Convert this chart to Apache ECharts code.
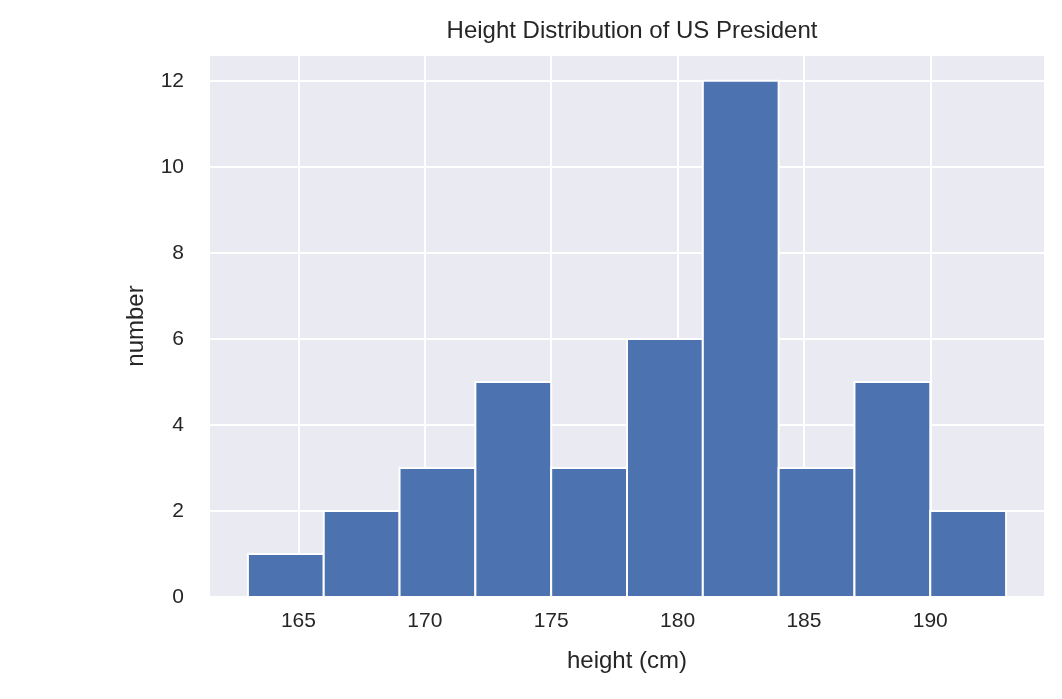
<!DOCTYPE html>
<html lang="en">
<head>
    <meta charset="UTF-8">
    <title>Height Distribution of US President</title>
    <script src="https://cdn.jsdelivr.net/npm/echarts@6/dist/echarts.min.js"></script>
    <style>body{margin:0;background:#fff}</style>
</head>
<body>
<div id="main" style="width: 1062px;height: 699px"></div>
<script>
    // histogram bins (cm) and counts
    var binEdges = [163, 166, 169, 172, 175, 178, 181, 184, 187, 190, 193];
    var counts = [1, 2, 3, 5, 3, 6, 12, 3, 5, 2];
    var xTicks = [165, 170, 175, 180, 185, 190];

    var bars = [];
    for (var i = 0; i < counts.length; i++) {
        bars.push([binEdges[i], binEdges[i + 1], counts[i]]);
    }

    var font = 'Liberation Sans, Arial, sans-serif';
    var chart = echarts.init(document.getElementById('main'));
    chart.setOption({
        animation: false,
        title: {
            text: 'Height Distribution of US President',
            left: 627, top: 14, textAlign: 'center',
            textStyle: {fontFamily: font, fontSize: 24, fontWeight: 'normal', color: '#262626'}
        },
        grid: {
            left: 210, right: 18, top: 55, bottom: 102,
            show: true, backgroundColor: '#EAEAF2', borderWidth: 0
        },
        xAxis: {
            type: 'value', min: 161.5, max: 194.5,
            name: 'height (cm)', nameLocation: 'middle', nameGap: 52,
            nameTextStyle: {fontFamily: font, fontSize: 24, color: '#262626'},
            axisLine: {show: false}, axisTick: {show: false, customValues: xTicks},
            axisLabel: {customValues: xTicks, fontFamily: font, fontSize: 21, color: '#262626', margin: 14},
            splitLine: {show: true, lineStyle: {color: '#fff', width: 2}}
        },
        yAxis: {
            type: 'value', min: 0, max: 12.6, interval: 2,
            name: 'number', nameLocation: 'middle', nameGap: 62,
            nameTextStyle: {fontFamily: font, fontSize: 24, color: '#262626'},
            axisLine: {show: false}, axisTick: {show: false},
            axisLabel: {showMaxLabel: false, fontFamily: font, fontSize: 21, color: '#262626', margin: 26},
            splitLine: {show: true, lineStyle: {color: '#fff', width: 2}}
        },
        series: [{
            type: 'custom',
            data: bars,
            renderItem: function (params, api) {
                var p0 = api.coord([api.value(0), api.value(2)]);
                var p1 = api.coord([api.value(1), 0]);
                return {
                    type: 'rect',
                    shape: {x: p0[0], y: p0[1], width: p1[0] - p0[0], height: p1[1] - p0[1]},
                    style: {fill: '#4C72B0', stroke: '#fff', lineWidth: 2}
                };
            }
        }]
    });
</script>
</body>
</html>
